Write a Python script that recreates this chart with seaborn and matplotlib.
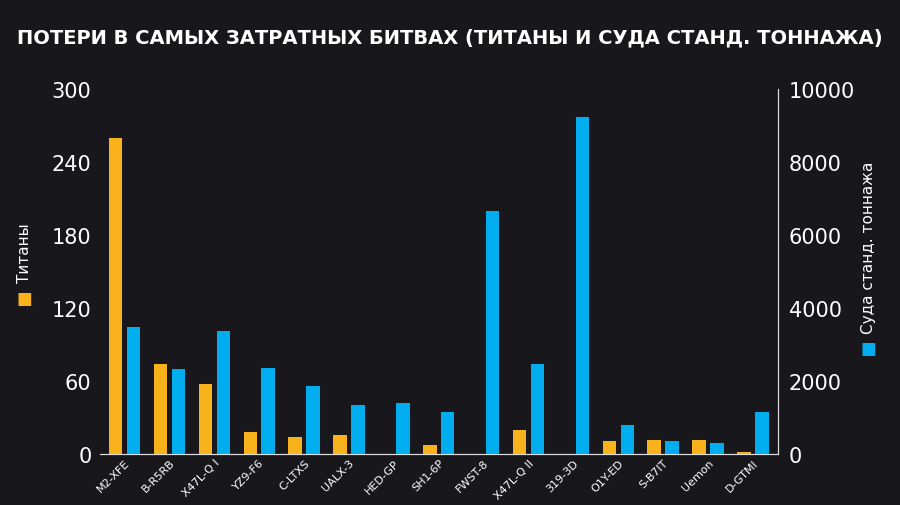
import numpy as np
import matplotlib
matplotlib.use("Agg")
import matplotlib.pyplot as plt
import seaborn as sns

systems = ["M2-XFE", "B-R5RB", "X47L-Q I", "YZ9-F6", "C-LTXS", "UALX-3", "HED-GP", "SH1-6P",
           "FWST-8", "X47L-Q II", "319-3D", "O1Y-ED", "S-B7IT", "Uemon", "D-GTMI"]
titans = [260, 74, 58, 18, 14, 16, 0, 8, 0, 20, 0, 11, 12, 12, 2]
ships = [3480, 2330, 3370, 2360, 1860, 1340, 1420, 1150, 6660, 2470, 9230, 800, 380, 300, 1150]

bg = "#18171c"
orange = "#f8b21c"
blue = "#00aeef"

sns.set_style("dark")
plt.rcParams.update({"font.family": ["DejaVu Sans"], "text.color": "white",
                     "axes.edgecolor": "white", "xtick.color": "white", "ytick.color": "white"})

fig = plt.figure(figsize=(9, 5.06), dpi=100, facecolor=bg)
ax = fig.add_axes([0.111, 0.10, 0.753, 0.722])
ax.set_facecolor(bg)
ax2 = ax.twinx()

x = np.arange(len(systems))
w = 0.3
ax.bar(x - 0.2, titans, width=w, color=orange, linewidth=0)
ax2.bar(x + 0.2, ships, width=w, color=blue, linewidth=0)

ax.set_xlim(-0.55, len(systems) - 0.45)
ax.set_ylim(0, 300)
ax2.set_ylim(0, 10000)
ax.set_yticks([0, 60, 120, 180, 240, 300])
ax2.set_yticks([0, 2000, 4000, 6000, 8000, 10000])
ax.tick_params(axis="y", labelsize=15, length=0, pad=6)
ax2.tick_params(axis="y", labelsize=15, length=0, pad=8)
ax.set_xticks(x)
ax.set_xticklabels(systems, rotation=45, ha="right", rotation_mode="anchor", fontsize=8)
ax.tick_params(axis="x", length=0, pad=2)

for a in (ax, ax2):
    for s in ("top", "left"):
        a.spines[s].set_visible(False)
    a.spines["bottom"].set_color("#dddddd")
    a.spines["right"].set_color("#dddddd")
    a.grid(False)

fig.text(0.027, 0.41, "■", color=orange, fontsize=12, ha="center", va="center")
fig.text(0.027, 0.44, "Титаны", color="white", fontsize=11, rotation=90, ha="center", va="bottom")
fig.text(0.965, 0.31, "■", color=blue, fontsize=12, ha="center", va="center")
fig.text(0.965, 0.34, "Суда станд. тоннажа", color="white", fontsize=11, rotation=90, ha="center", va="bottom")

fig.text(0.5, 0.925, "ПОТЕРИ В САМЫХ ЗАТРАТНЫХ БИТВАХ (ТИТАНЫ И СУДА СТАНД. ТОННАЖА)",
         color="white", fontsize=14, fontweight="bold", ha="center", va="center")

fig.savefig("out.png", dpi=100, facecolor=bg)
